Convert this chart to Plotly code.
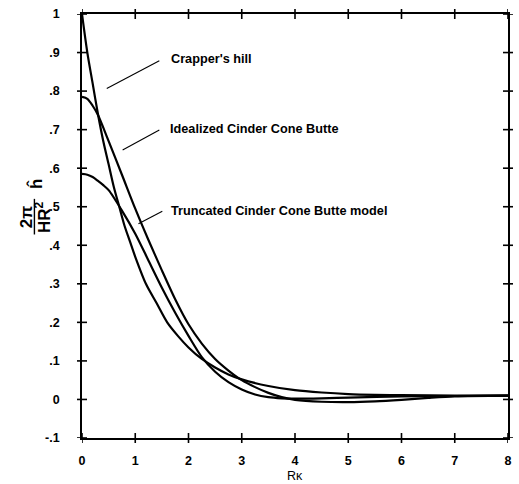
import plotly.graph_objects as go

# Normalised spectra against R*kappa
crapper_x = [0, 0.1, 0.2, 0.3, 0.4, 0.5, 0.6, 0.7, 0.8, 0.9, 1.0, 1.2, 1.4, 1.6, 1.8,
             2.0, 2.25, 2.5, 2.75, 3.0, 3.5, 4.0, 4.5, 5.0, 5.5, 6.0, 7.0, 8.0]
crapper_y = [1.0, 0.90, 0.82, 0.74, 0.67, 0.61, 0.55, 0.50, 0.45, 0.41, 0.37, 0.30, 0.25, 0.20, 0.165,
             0.135, 0.105, 0.083, 0.065, 0.052, 0.035, 0.024, 0.018, 0.014, 0.012, 0.011, 0.010, 0.010]

ideal_x = [0, 0.1, 0.2, 0.3, 0.4, 0.5, 0.75, 1.0, 1.25, 1.5, 1.75, 2.0, 2.25, 2.5, 2.75,
           3.0, 3.25, 3.5, 3.75, 4.0, 4.5, 5.0, 5.5, 6.0, 6.5, 7.0, 8.0]
ideal_y = [0.785, 0.78, 0.762, 0.738, 0.705, 0.67, 0.583, 0.495, 0.413, 0.335, 0.26, 0.195, 0.145, 0.105, 0.075,
           0.05, 0.032, 0.017, 0.006, -0.001, -0.006, -0.007, -0.005, -0.001, 0.004, 0.008, 0.010]

trunc_x = [0, 0.1, 0.2, 0.3, 0.4, 0.5, 0.75, 1.0, 1.25, 1.5, 1.75, 2.0, 2.25, 2.5, 2.75,
           3.0, 3.25, 3.5, 3.75, 4.0, 4.5, 5.0, 6.0, 7.0, 8.0]
trunc_y = [0.585, 0.583, 0.577, 0.567, 0.556, 0.543, 0.49, 0.43, 0.36, 0.29, 0.225, 0.165, 0.11, 0.072, 0.045,
           0.026, 0.013, 0.006, 0.003, 0.002, 0.003, 0.005, 0.008, 0.009, 0.010]

x_ticks = [0, 1, 2, 3, 4, 5, 6, 7, 8]
y_ticks = [-0.1, 0, 0.1, 0.2, 0.3, 0.4, 0.5, 0.6, 0.7, 0.8, 0.9, 1.0]
y_tick_text = ["-.1", "0", ".1", ".2", ".3", ".4", ".5", ".6", ".7", ".8", ".9", "1"]

curve_labels = ["Crapper's hill", "Idealized Cinder Cone Butte", "Truncated Cinder Cone Butte model"]

FONT = "Liberation Sans, Arial, Helvetica, sans-serif"
X_RANGE = [0, 8]
Y_RANGE = [-0.1, 1.0]
TICK_HALF = 5  # px each side of the frame

fig = go.Figure()
for xs, ys, name in [(crapper_x, crapper_y, curve_labels[0]),
                     (ideal_x, ideal_y, curve_labels[1]),
                     (trunc_x, trunc_y, curve_labels[2])]:
    fig.add_trace(go.Scatter(x=xs, y=ys, mode="lines", name=name,
                             line=dict(color="black", width=2.2, shape="spline", smoothing=0.8),
                             showlegend=False, hoverinfo="skip"))

fig.update_layout(
    width=519, height=484,
    margin=dict(l=82, r=7, t=11, b=46),
    paper_bgcolor="white", plot_bgcolor="white",
    font=dict(family=FONT, color="black"),
    xaxis=dict(range=X_RANGE, tickvals=x_ticks, ticks="", showgrid=False, zeroline=False,
               showline=True, linecolor="black", linewidth=1.6, mirror=True,
               ticklabelstandoff=10,
               tickfont=dict(size=12.5, weight="bold", family=FONT)),
    yaxis=dict(range=Y_RANGE, tickvals=y_ticks, ticktext=y_tick_text, ticks="",
               showgrid=False, zeroline=False, showline=True, linecolor="black",
               linewidth=1.6, mirror=True, ticklabelstandoff=18,
               tickfont=dict(size=12.5, weight="bold", family=FONT)),
)

# tick marks crossing all four sides of the frame
tick_line = dict(color="black", width=1.6)
for xv in x_ticks:
    for edge in (0, 1):
        fig.add_shape(type="line", xref="x", yref="paper", ysizemode="pixel", yanchor=edge,
                      x0=xv, x1=xv, y0=-TICK_HALF, y1=TICK_HALF, line=tick_line)
for yv in y_ticks:
    for edge in (0, 1):
        fig.add_shape(type="line", xref="paper", yref="y", xsizemode="pixel", xanchor=edge,
                      y0=yv, y1=yv, x0=-TICK_HALF, x1=TICK_HALF, line=tick_line)

# curve labels with leader lines
label_pos = [(1.638, 0.884), (1.62, 0.701), (1.638, 0.489)]
leaders = [((0.465, 0.807), (1.452, 0.879)),
           ((0.763, 0.647), (1.452, 0.699)),
           ((1.06, 0.456), (1.508, 0.488))]
for text, (lx, ly), ((x0, y0), (x1, y1)) in zip(curve_labels, label_pos, leaders):
    fig.add_annotation(x=lx, y=ly, text=text, showarrow=False, xanchor="left", yanchor="middle",
                       font=dict(size=12.7, weight="bold", family=FONT))
    fig.add_shape(type="line", x0=x0, y0=y0, x1=x1, y1=y1, xref="x", yref="y",
                  line=dict(color="black", width=1.1))

# x-axis title
fig.add_annotation(x=0.5, y=-0.089, xref="paper", yref="paper", text="R\u03ba", showarrow=False,
                   xanchor="center", yanchor="middle", font=dict(size=12.5, family=FONT))

# y-axis title: (2\u03c0 / HR\u00b2) \u0125, rotated
title_font = dict(size=17, weight="bold", family=FONT)
fig.add_annotation(x=-0.1303, y=0.522, xref="paper", yref="paper", text="2\u03c0", textangle=-90,
                   showarrow=False, xanchor="center", yanchor="middle", font=title_font)
fig.add_annotation(x=-0.093, y=0.522, xref="paper", yref="paper", text="HR<sup>2</sup>", textangle=-90,
                   showarrow=False, xanchor="center", yanchor="middle", font=title_font)
fig.add_annotation(x=-0.1094, y=0.60, xref="paper", yref="paper", text="\u0125", textangle=-90,
                   showarrow=False, xanchor="center", yanchor="middle", font=title_font)
fig.add_shape(type="line", xref="paper", yref="paper", x0=-0.1117, x1=-0.1117, y0=0.48, y1=0.564,
              line=dict(color="black", width=1.4))

fig.write_html("out.html")
